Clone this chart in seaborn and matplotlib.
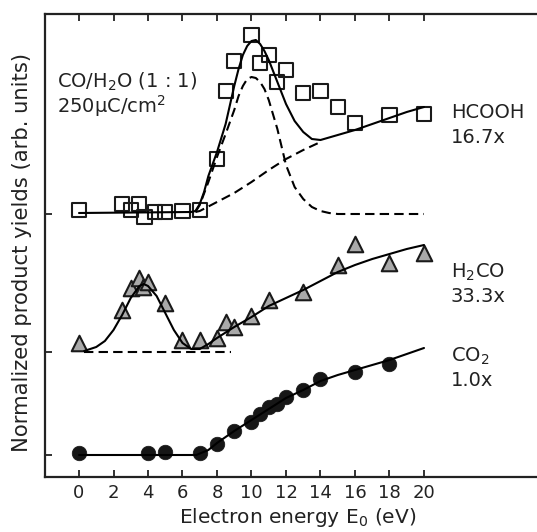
import numpy as np
import pandas as pd
import matplotlib
matplotlib.use("Agg")
import matplotlib.pyplot as plt
import seaborn as sns

# ---------------- data (yields relative to each trace's baseline, arb. units) ----------------
offsets = {"HCOOH": 2.63, "H2CO": 1.25, "CO2": 0.22}

# HCOOH (open squares)
hcooh_x = [0, 2.5, 3, 3.5, 3.8, 4.4, 5, 6, 7, 8, 8.5, 9, 10, 10.5, 11, 11.5, 12, 13, 14, 15, 16, 18, 20]
hcooh_y = [0.04, 0.10, 0.04, 0.10, -0.03, 0.02, 0.02, 0.03, 0.04, 0.55, 1.23, 1.53, 1.79, 1.51,
           1.59, 1.32, 1.44, 1.21, 1.23, 1.07, 0.91, 0.99, 1.00]
hcooh_fit_x = [0, 6.5, 6.75, 7.0, 7.25, 7.5, 8.0, 8.5, 9.0, 9.25, 9.5, 9.75, 10.0, 10.25, 10.5,
               10.75, 11.0, 11.5, 12.0, 12.5, 13.0, 13.5, 14.0, 15, 16, 17, 18, 19, 20]
hcooh_fit_y = [0.01, 0.02, 0.03, 0.10, 0.22, 0.38, 0.62, 0.90, 1.28, 1.45, 1.59, 1.68, 1.73, 1.74,
               1.70, 1.63, 1.54, 1.32, 1.10, 0.93, 0.82, 0.75, 0.74, 0.79, 0.84, 0.90, 0.96, 1.02, 1.07]
hcooh_peak_x = [6.75, 7.0, 7.5, 8.0, 8.5, 9.0, 9.25, 9.5, 9.75, 10.0, 10.25, 10.5, 10.75, 11.0,
                11.5, 12.0, 12.5, 13.0, 13.5, 14.0, 14.5, 15, 20]
hcooh_peak_y = [0.02, 0.09, 0.32, 0.57, 0.80, 1.04, 1.18, 1.28, 1.35, 1.37, 1.36, 1.32, 1.25, 1.14,
                0.85, 0.49, 0.27, 0.15, 0.07, 0.03, 0.01, 0.0, 0.0]
hcooh_bg_x = [6.75, 7, 8, 9, 10, 11, 12, 13, 14]
hcooh_bg_y = [0.02, 0.03, 0.12, 0.21, 0.32, 0.44, 0.55, 0.64, 0.72]

# H2CO (grey triangles)
h2co_x = [0, 2.5, 3, 3.5, 3.7, 4, 5, 6, 7, 8, 8.5, 9, 10, 11, 13, 15, 16, 18, 20]
h2co_y = [0.09, 0.42, 0.64, 0.74, 0.65, 0.70, 0.49, 0.12, 0.12, 0.14, 0.30, 0.25, 0.36, 0.52,
          0.60, 0.87, 1.08, 0.89, 0.99]
h2co_fit_x = [0.3, 1, 1.5, 2, 2.5, 3, 3.5, 3.75, 4, 4.5, 5, 5.5, 6, 6.5, 7, 7.5, 8, 9, 10, 11,
              12, 13, 14, 15, 16, 17, 18, 19, 20]
h2co_fit_y = [0.01, 0.05, 0.11, 0.22, 0.37, 0.54, 0.66, 0.68, 0.66, 0.56, 0.39, 0.22, 0.09, 0.03,
              0.03, 0.08, 0.14, 0.25, 0.35, 0.46, 0.54, 0.62, 0.71, 0.80, 0.87, 0.93, 0.98, 1.03, 1.07]
h2co_bg_x = [0.3, 8.8]
h2co_bg_y = [0.0, 0.0]

# CO2 (black circles)
co2_x = [0, 4, 5, 7, 8, 9, 10, 10.5, 11, 11.5, 12, 13, 14, 16, 18]
co2_y = [0.02, 0.02, 0.03, 0.02, 0.11, 0.24, 0.33, 0.41, 0.48, 0.51, 0.58, 0.65, 0.76, 0.83, 0.91]
co2_fit_x = [0, 6.8, 7.5, 8, 9, 10, 11, 12, 13, 14, 15, 16, 17, 18, 19, 20]
co2_fit_y = [0.0, 0.0, 0.05, 0.12, 0.24, 0.35, 0.46, 0.57, 0.65, 0.74, 0.80, 0.85, 0.90, 0.95, 1.01, 1.07]

xticks = [0, 2, 4, 6, 8, 10, 12, 14, 16, 18, 20]
labels = [("HCOOH", "16.7x"), ("H$_2$CO", "33.3x"), ("CO$_2$", "1.0x")]

# ---------------- style ----------------
sns.set_style("ticks")
plt.rcParams["font.family"] = ["DejaVu Sans"]
plt.rcParams["mathtext.fontset"] = "dejavusans"
TXT = "#222222"

W, H = 537, 532
fig = plt.figure(figsize=(W / 100, H / 100), dpi=100)
RIGHT = 550
ax = fig.add_axes([45 / W, 1 - 477 / H, (RIGHT - 45) / W, (477 - 14) / H])

lw = 1.5
dash = (0, (4.5, 2.5))

def add(v, key):
    return np.asarray(v) + offsets[key]

# fit lines
sns.lineplot(x=hcooh_fit_x, y=add(hcooh_fit_y, "HCOOH"), ax=ax, color="k", lw=lw, estimator=None, sort=False)
sns.lineplot(x=hcooh_peak_x, y=add(hcooh_peak_y, "HCOOH"), ax=ax, color="k", lw=lw, linestyle=dash, estimator=None, sort=False)
sns.lineplot(x=hcooh_bg_x, y=add(hcooh_bg_y, "HCOOH"), ax=ax, color="k", lw=lw, linestyle=dash, estimator=None, sort=False)
sns.lineplot(x=h2co_fit_x, y=add(h2co_fit_y, "H2CO"), ax=ax, color="k", lw=lw, estimator=None, sort=False)
sns.lineplot(x=h2co_bg_x, y=add(h2co_bg_y, "H2CO"), ax=ax, color="k", lw=lw, linestyle=dash, estimator=None, sort=False)
sns.lineplot(x=co2_fit_x, y=add(co2_fit_y, "CO2"), ax=ax, color="k", lw=lw, estimator=None, sort=False)

# data markers
sns.scatterplot(x=hcooh_x, y=add(hcooh_y, "HCOOH"), ax=ax, marker="s", s=105,
                facecolor="none", edgecolor="#1a1a1a", linewidth=1.5, zorder=1)
sns.scatterplot(x=h2co_x, y=add(h2co_y, "H2CO"), ax=ax, marker="^", s=125,
                color="#a9a9a9", edgecolor="#1a1a1a", linewidth=1.5, zorder=1)
sns.scatterplot(x=co2_x, y=add(co2_y, "CO2"), ax=ax, marker="o", s=110,
                color="#161616", edgecolor="#161616", linewidth=0.5, zorder=1)

ax.set_xlim((45 - 79) / 17.25, (RIGHT - 79) / 17.25)
ax.set_ylim(0, 4.63)
ax.set_xticks(xticks)
ax.set_yticks([offsets["CO2"], offsets["H2CO"], offsets["HCOOH"]])
ax.set_yticklabels([])
ax.tick_params(axis="both", direction="in", length=5, width=1.3, colors="#222222",
               labelsize=13, top=True, right=False, labelcolor=TXT, pad=5)
for sp in ax.spines.values():
    sp.set_linewidth(1.6)
    sp.set_color("#222222")
ax.spines["right"].set_visible(False)

ax.set_xlabel("Electron energy E$_0$ (eV)", fontsize=14.5, color=TXT, labelpad=3)
ax.set_ylabel("Normalized product yields (arb. units)", fontsize=15.2, color=TXT)
ax.yaxis.set_label_coords((32 - 45) / (RIGHT - 45), (477 - 252) / 463)

def ftxt(px, py, s, **kw):
    fig.text(px / W, 1 - py / H, s, fontsize=14, color=TXT, va="center", ha="left", **kw)

ftxt(57, 82, "CO/H$_2$O (1 : 1)")
ftxt(57, 106, "250µC/cm$^2$")
rows = [(113, 137), (272, 296), (356, 381)]
for (a, b), (y1, y2) in zip(labels, rows):
    ftxt(451, y1, a)
    ftxt(451, y2, b)

fig.savefig("out.png", dpi=100)
